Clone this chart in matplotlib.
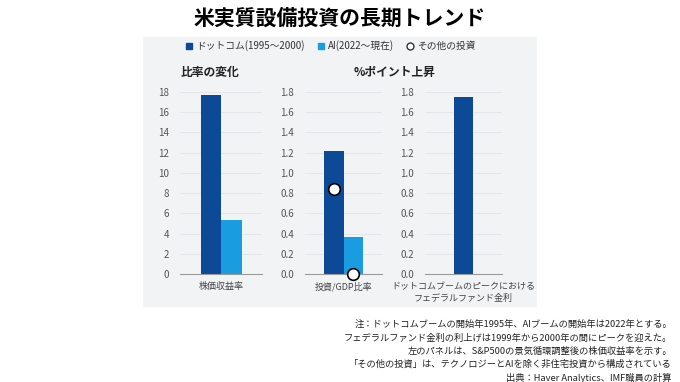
import matplotlib.pyplot as plt
from matplotlib.patches import Rectangle
from matplotlib.lines import Line2D

plt.rcParams['font.family'] = ['Noto Sans CJK JP', 'DejaVu Sans']

# データ
pe_labels = ['株価収益率']
pe_dotcom = [17.7]
pe_ai = [5.3]

inv_labels = ['投資/GDP比率']
inv_dotcom = [1.22]
inv_ai = [0.37]
other_dotcom = [0.84]
other_ai = [0.0]

fed_labels = ['ドットコムブームのピークにおける\nフェデラルファンド金利']
fed_dotcom = [1.75]

dark = '#0c4a97'
light = '#1a9de0'
bg = '#f1f3f5'

fig = plt.figure(figsize=(6.8, 3.82), dpi=100)
W, H = 680, 382

# 背景パネル（軸より後ろに描く）
fig.patches.append(Rectangle((143 / W, 1 - 307 / H), 394 / W, 270 / H,
                             transform=fig.transFigure, facecolor=bg,
                             edgecolor='none', zorder=-10))

def make_ax(x0, x1, ymax, ticks, fmt):
    ax = fig.add_axes([x0 / W, 1 - 274 / H, (x1 - x0) / W, 182 / H])
    ax.set_facecolor('none')
    ax.set_xlim(-1, 1)
    ax.set_ylim(0, ymax)
    ax.set_yticks(ticks)
    ax.set_yticklabels([fmt(t) for t in ticks])
    ax.tick_params(axis='y', length=0, labelsize=7, colors='#555555', pad=8)
    ax.tick_params(axis='x', length=0, colors='#444444', pad=6)
    ax.grid(axis='y', color='#e2e4e7', linewidth=0.6)
    ax.set_axisbelow(True)
    for s in ['top', 'right', 'left']:
        ax.spines[s].set_visible(False)
    ax.spines['bottom'].set_color('#9a9a9a')
    ax.spines['bottom'].set_linewidth(0.8)
    return ax

# 左パネル
ax1 = make_ax(180, 262, 18, list(range(0, 19, 2)), lambda t: f'{t}')
ax1.bar([-0.25], pe_dotcom, width=0.5, color=dark)
ax1.bar([0.25], pe_ai, width=0.5, color=light)
ax1.set_xticks([0])
ax1.set_xticklabels(pe_labels, fontsize=6.5)

# 中央パネル
ticks2 = [i / 5 for i in range(10)]
ax2 = make_ax(305, 382, 1.8, ticks2, lambda t: f'{t:.1f}')
ax2.bar([-0.25], inv_dotcom, width=0.5, color=dark)
ax2.bar([0.25], inv_ai, width=0.5, color=light)
ax2.scatter([-0.25, 0.25], other_dotcom + other_ai, s=70, facecolor='white',
            edgecolor='black', linewidth=1.2, zorder=5, clip_on=False)
ax2.set_xticks([0])
ax2.set_xticklabels(inv_labels, fontsize=6.5)

# 右パネル
ax3 = make_ax(425, 502, 1.8, ticks2, lambda t: f'{t:.1f}')
ax3.bar([0], fed_dotcom, width=0.5, color=dark)
ax3.set_xticks([0])
ax3.set_xticklabels(fed_labels, fontsize=6.5, linespacing=1.3)

# サブタイトル
fig.text(210 / W, 1 - 72 / H, '比率の変化', fontsize=8.5, fontweight='bold',
         ha='center', va='center', color='#222222')
fig.text(395 / W, 1 - 72 / H, '%ポイント上昇', fontsize=8.5, fontweight='bold',
         ha='center', va='center', color='#222222')

# 凡例
handles = [
    Line2D([], [], marker='s', linestyle='none', markersize=5, color=dark),
    Line2D([], [], marker='s', linestyle='none', markersize=5, color=light),
    Line2D([], [], marker='o', linestyle='none', markersize=5,
           markerfacecolor='white', markeredgecolor='#333333'),
]
fig.legend(handles, ['ドットコム(1995～2000)', 'AI(2022～現在)', 'その他の投資'],
           loc='center', bbox_to_anchor=(330 / W, 1 - 46 / H), ncol=3,
           frameon=False, fontsize=7, handletextpad=0.2, columnspacing=1.2,
           handlelength=1.0, labelcolor='#333333')

# タイトル
fig.text(340 / W, 1 - 18 / H, '米実質設備投資の長期トレンド', fontsize=15,
         fontweight='bold', ha='center', va='center')

# 注記
notes = [
    '注：ドットコムブームの開始年1995年、AIブームの開始年は2022年とする。',
    'フェデラルファンド金利の利上げは1999年から2000年の間にピークを迎えた。',
    '左のパネルは、S&P500の景気循環調整後の株価収益率を示す。',
    '「その他の投資」は、テクノロジーとAIを除く非住宅投資から構成されている',
    '出典：Haver Analytics、IMF職員の計算',
]
for i, line in enumerate(notes):
    fig.text(672 / W, 1 - (325 + i * 13.2) / H, line, fontsize=6.7,
             ha='right', va='center', color='#222222')

plt.savefig('out.png', dpi=100)
